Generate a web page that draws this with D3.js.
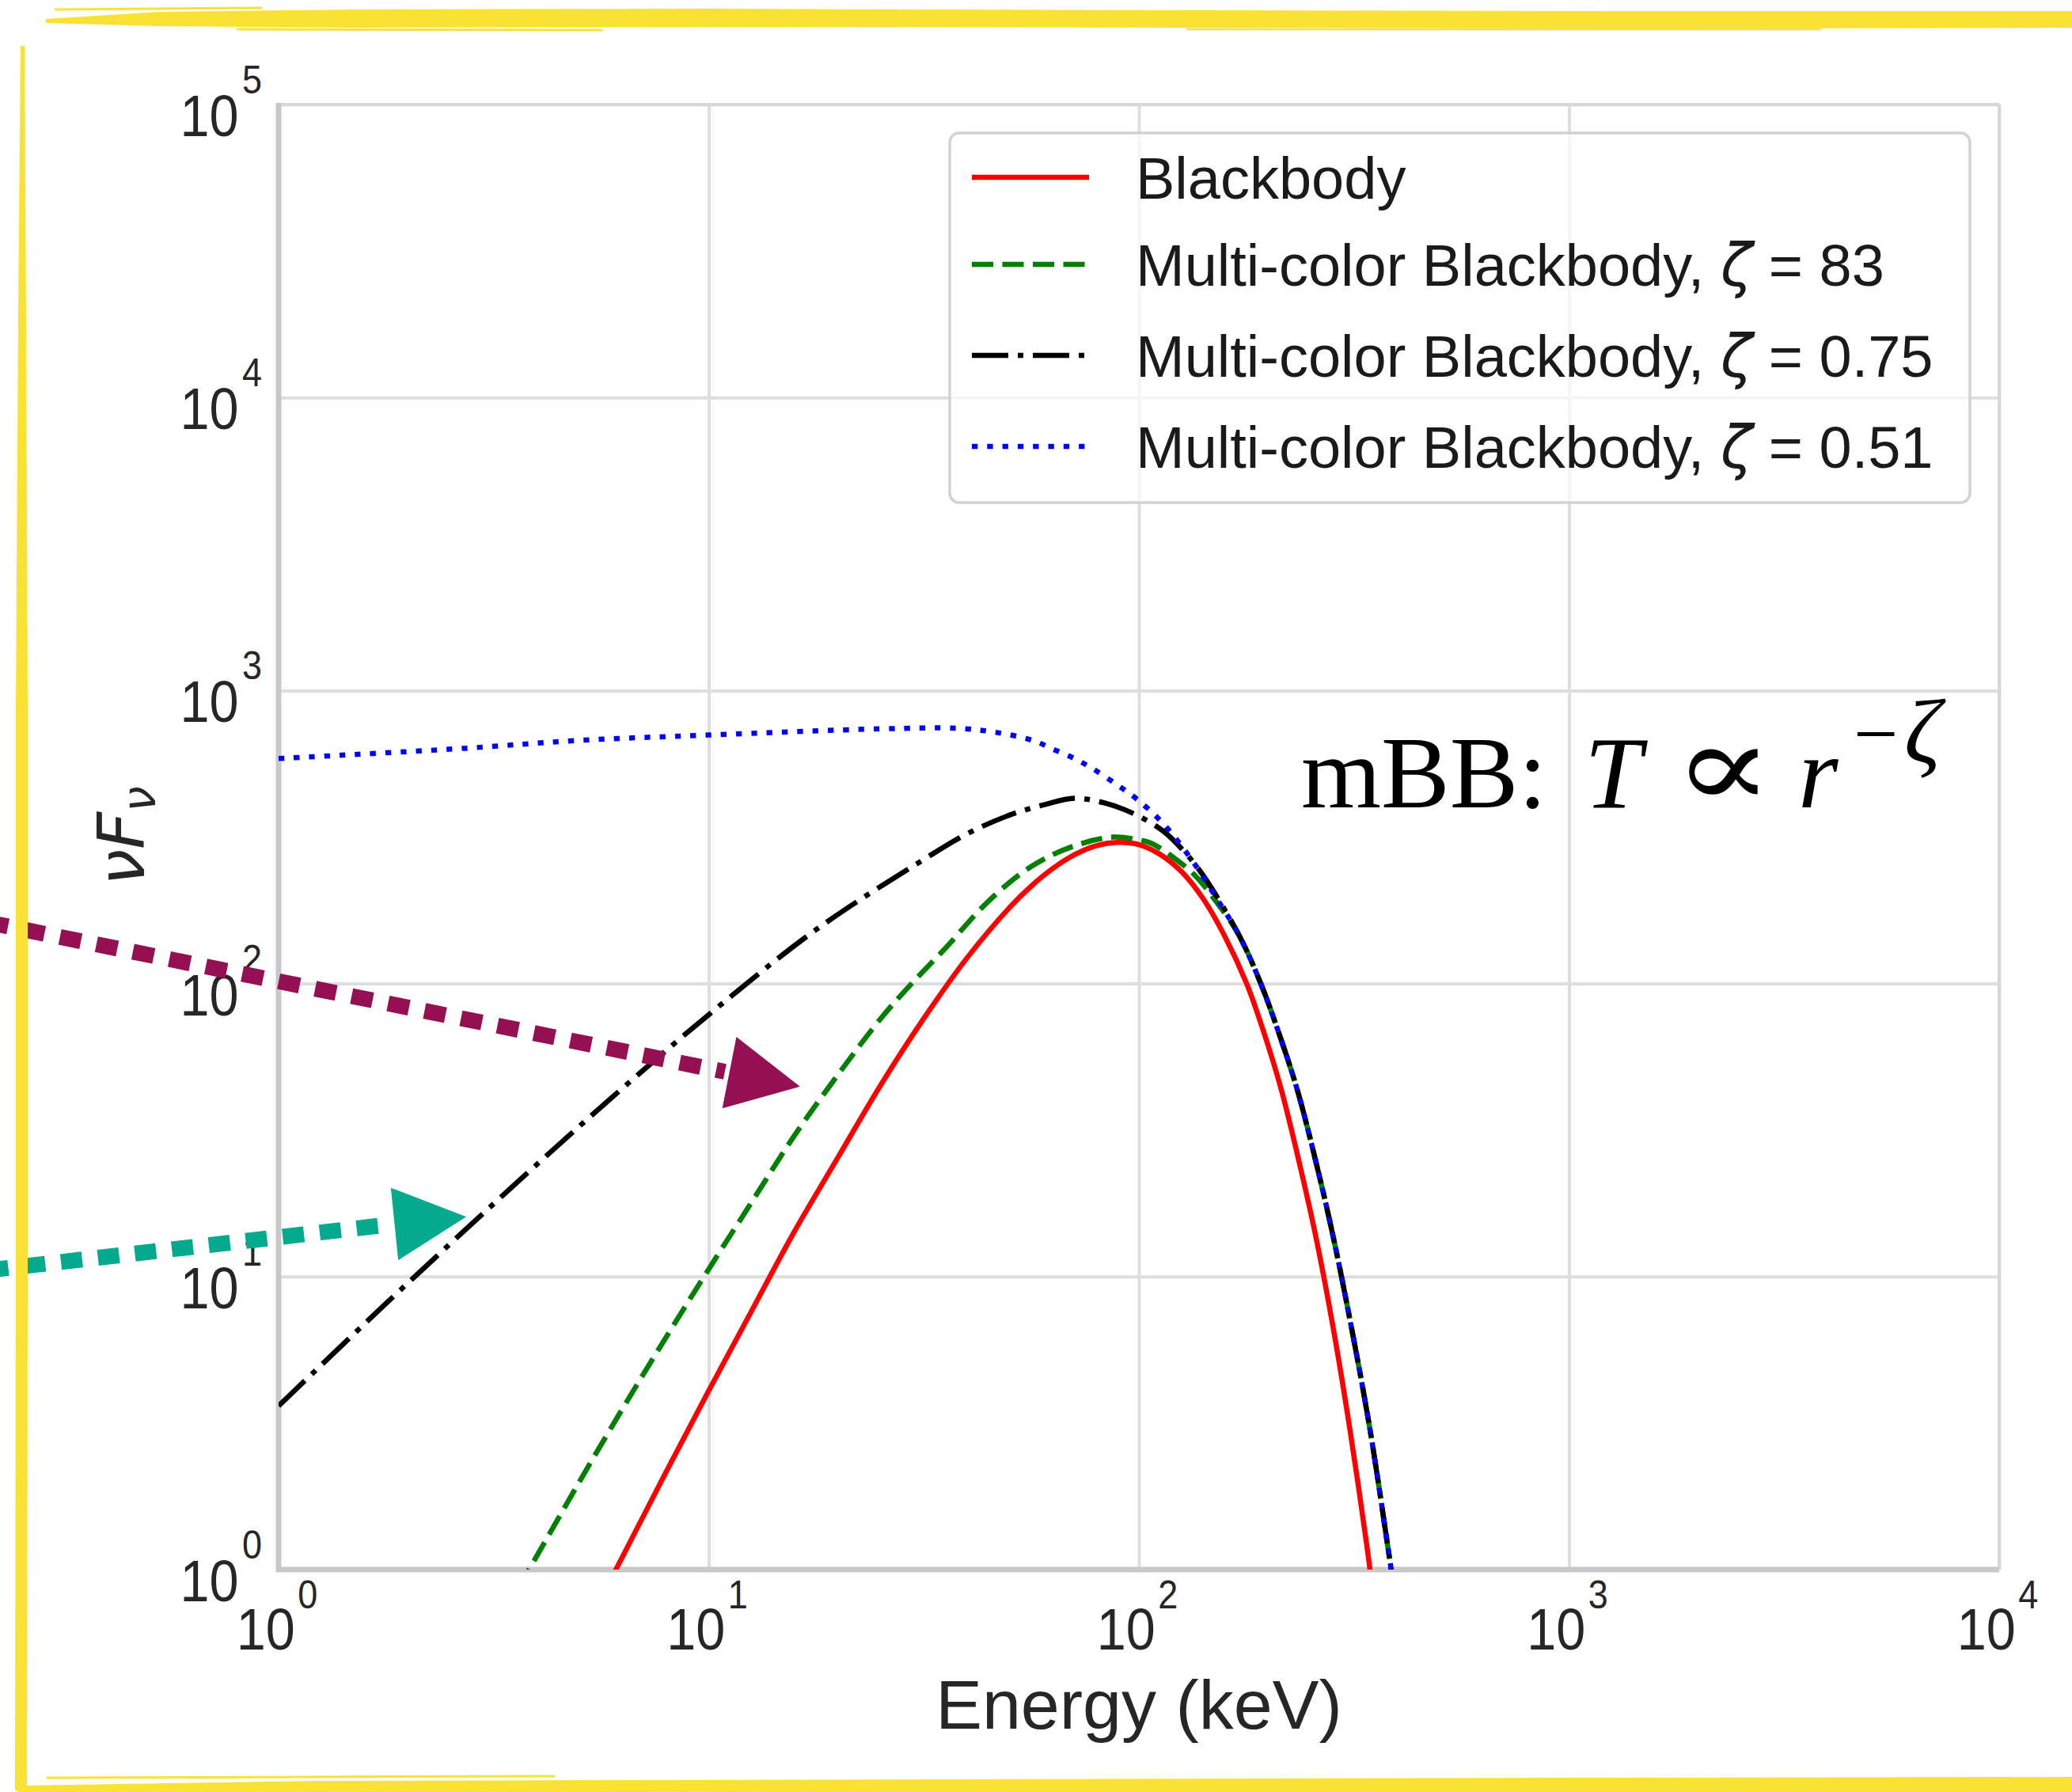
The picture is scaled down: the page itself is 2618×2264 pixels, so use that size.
<!DOCTYPE html>
<html><head><meta charset="utf-8">
<script src="https://cdn.jsdelivr.net/npm/d3@7"></script>
<style>body{margin:0;background:#fff;}svg{display:block}</style>
</head><body>
<script>
// ---------- data ----------
const xTickValues = [1, 10, 100, 1000, 10000];
const xTickExponents = ["0", "1", "2", "3", "4"];
const yTickValues = [1, 10, 100, 1000, 10000, 100000];
const yTickExponents = ["0", "1", "2", "3", "4", "5"];

const bbEnergy = [5.01,6.31,7.94,10.0,12.6,15.8,20.0,25.1,31.6,39.8,50.1,56.2,63.1,70.8,79.4,89.1,100,112,126,141,158,178,195,214,234,257,282,309,339,363];
const bbFlux   = [0.575,1.11,2.14,4.08,7.67,14.2,25.6,45.0,75.9,122,182,215,247,275,295,303,298,276,240,195,146,100,68.5,43.8,25.8,14.0,6.87,3.05,1.20,0.552];

const mbb83Energy = [2.82,3.82,5.01,6.31,7.94,10.0,12.6,15.8,20.0,25.1,29.2,35.5,44.7,56.2,70.8,87.1,100,107,120,135,151,171,192,211,233,256,282,311,344,379,409];
const mbb83Flux   = [0.468,1.0,2.0,3.55,6.17,10.6,18.0,30.2,49.0,75.9,97.7,132,191,251,295,316,309,301,270,234,191,146,100,68.5,43.8,25.8,14.0,6.87,3.05,1.20,0.552];

const mbb075Energy = [1.0,1.78,3.16,5.62,10.0,17.8,31.6,39.8,50.1,60.3,70.8,83.8,99.1,114,128,141,171,192,211,233,256,282,311,344,379,409];
const mbb075Flux   = [3.62,8.11,17.7,37.9,78.3,153,265,324,376,408,429,412,375,331,280,234,146,100,68.5,43.8,25.8,14.0,6.87,3.05,1.20,0.552];

const mbb051Energy = [1.0,2.70,5.01,10,25.1,37.8,46.2,56.6,63.1,70.8,77.8,89.1,99.1,114,133,151,171,192,211,233,256,282,311,344,379,409];
const mbb051Flux   = [586,635,676,705,740,743,721,676,631,586,543,476,425,351,263,197,146,100,68.5,43.8,25.8,14.0,6.87,3.05,1.20,0.552];

const seriesNames = ["Blackbody", "Multi-color Blackbody, ", "Multi-color Blackbody, ", "Multi-color Blackbody, "];
const seriesZeta = [null, "83", "0.75", "0.51"];
const seriesColors = ["#ff0000", "#008000", "#000000", "#0000ff"];
const seriesDash = ["none", "27 11.5", "46 12 7 12", "7.3 12"];

// annotation arrows (data units: energy, flux)
const arrowStartE = [0.210, 0.210];
const arrowStartF = [162, 10.5];
const arrowEndE = [10.9, 1.85];
const arrowEndF = [50.0, 15.1];
const arrowTipE = [16.3, 2.73];
const arrowTipF = [44.5, 16.0];
const arrowColors = ["#941052", "#03aa8d"];

// ---------- layout ----------
const W = 2618, H = 2264;
const L = 352, R = 2526, T = 132, B = 1983;

const svg = d3.select("body").append("svg").attr("width", W).attr("height", H);
svg.append("rect").attr("width", W).attr("height", H).attr("fill", "#fff");

const x = d3.scaleLog().domain([1, 1e4]).range([L, R]);
const y = d3.scaleLog().domain([1, 1e5]).range([B, T]);

// grid via axes
const gx = svg.append("g").attr("transform", `translate(0,${B})`)
  .call(d3.axisBottom(x).tickValues(xTickValues).tickSize(-(B - T)).tickFormat(""));
gx.select(".domain").remove();
gx.selectAll("line").attr("stroke", "#dedede").attr("stroke-width", 4);
const gy = svg.append("g").attr("transform", `translate(${L},0)`)
  .call(d3.axisLeft(y).tickValues(yTickValues).tickSize(-(R - L)).tickFormat(""));
gy.select(".domain").remove();
gy.selectAll("line").attr("stroke", "#dedede").attr("stroke-width", 4);

// spines
svg.append("line").attr("x1", L).attr("x2", R).attr("y1", T).attr("y2", T).attr("stroke", "#d6d6d6").attr("stroke-width", 3.5);
svg.append("line").attr("x1", R).attr("x2", R).attr("y1", T).attr("y2", B).attr("stroke", "#d6d6d6").attr("stroke-width", 3.5);
svg.append("line").attr("x1", L).attr("x2", L).attr("y1", T - 2).attr("y2", B + 3).attr("stroke", "#c8c8c8").attr("stroke-width", 7);
svg.append("line").attr("x1", L - 3).attr("x2", R).attr("y1", B).attr("y2", B).attr("stroke", "#c8c8c8").attr("stroke-width", 7);

// tick labels
const tickFont = "'Liberation Sans', Arial, Helvetica, sans-serif";
xTickValues.forEach((v, i) => {
  const t = svg.append("text")
    .attr("transform", `translate(${x(v) - 2},2084) scale(0.9,1)`)
    .attr("text-anchor", "middle").attr("font-family", tickFont).attr("fill", "#262626");
  t.append("tspan").attr("font-size", 74).text("10");
  t.append("tspan").attr("font-size", 50).attr("dx", 4).attr("dy", -52).text(xTickExponents[i]);
});
yTickValues.forEach((v, i) => {
  const t = svg.append("text")
    .attr("transform", `translate(331,${y(v) + 40}) scale(0.9,1)`)
    .attr("text-anchor", "end").attr("font-family", tickFont).attr("fill", "#262626");
  t.append("tspan").attr("font-size", 74).text("10");
  t.append("tspan").attr("font-size", 50).attr("dx", 5).attr("dy", -54).text(yTickExponents[i]);
});

// axis labels
svg.append("text").attr("x", (L + R) / 2).attr("y", 2184).attr("text-anchor", "middle")
  .attr("font-family", tickFont).attr("font-size", 88).attr("fill", "#262626").text("Energy (keV)");
const yl = svg.append("text").attr("transform", "translate(182,1056) rotate(-90)")
  .attr("text-anchor", "middle").attr("font-family", "'DejaVu Sans', sans-serif")
  .attr("font-style", "italic").attr("fill", "#262626").attr("font-size", 82);
yl.append("tspan").text("νF");
yl.append("tspan").attr("font-size", 58).attr("dy", 14).text("ν");

// curves
svg.append("clipPath").attr("id", "plotclip").append("rect")
  .attr("x", L).attr("y", T).attr("width", R - L).attr("height", B - T);
const line = d3.line().x(d => x(d[0])).y(d => y(d[1])).curve(d3.curveCatmullRom.alpha(0.5));
const seriesData = [
  d3.zip(bbEnergy, bbFlux),
  d3.zip(mbb83Energy, mbb83Flux),
  d3.zip(mbb075Energy, mbb075Flux),
  d3.zip(mbb051Energy, mbb051Flux)
];
const curves = svg.append("g").attr("clip-path", "url(#plotclip)");
seriesData.forEach((d, i) => {
  curves.append("path").attr("d", line(d)).attr("fill", "none")
    .attr("stroke", seriesColors[i]).attr("stroke-width", 6.5)
    .attr("stroke-dasharray", seriesDash[i]).attr("stroke-linecap", "butt");
});

// legend
const lg = svg.append("g");
lg.append("rect").attr("x", 1200).attr("y", 168).attr("width", 1289).attr("height", 467).attr("rx", 12)
  .attr("fill", "#fff").attr("fill-opacity", 0.7).attr("stroke", "#d2d2d2").attr("stroke-width", 3.5);
const legendY = [224, 334, 449, 564];
seriesNames.forEach((name, i) => {
  lg.append("line").attr("x1", 1228).attr("x2", 1376).attr("y1", legendY[i]).attr("y2", legendY[i])
    .attr("stroke", seriesColors[i]).attr("stroke-width", 6.5).attr("stroke-dasharray", seriesDash[i]);
  const t = lg.append("text").attr("x", 1435).attr("y", legendY[i] + 27)
    .attr("font-family", tickFont).attr("font-size", 74).attr("fill", "#1a1a1a");
  t.append("tspan").text(name);
  if (seriesZeta[i] !== null) {
    t.append("tspan").attr("font-family", "'DejaVu Sans', sans-serif").attr("font-style", "italic").text("ζ");
    t.append("tspan").text(" = " + seriesZeta[i]);
  }
});

// mBB annotation
const serif = "'Liberation Serif', 'Times New Roman', serif";
const ann = svg.append("g").attr("font-family", serif).attr("fill", "#000");
ann.append("text").attr("x", 1644).attr("y", 1020).attr("font-size", 130).text("mBB:");
ann.append("text").attr("x", 2002).attr("y", 1020).attr("font-size", 130).attr("font-style", "italic").text("T");
ann.append("text").attr("transform", "translate(2114,1020) scale(1.25,1)").attr("font-family", "'DejaVu Serif', serif").attr("font-size", 150).text("∝");
ann.append("text").attr("x", 2272).attr("y", 1020).attr("font-size", 130).attr("font-style", "italic").text("r");
ann.append("text").attr("x", 2342).attr("y", 961).attr("font-size", 100).text("−");
ann.append("text").attr("x", 2406).attr("y", 963).attr("font-size", 114).attr("font-style", "italic").text("ζ");

// arrows
arrowColors.forEach((c, i) => {
  const sx = x(arrowStartE[i]), sy = y(arrowStartF[i]);
  const ex = x(arrowEndE[i]), ey = y(arrowEndF[i]);
  const tx = x(arrowTipE[i]), ty = y(arrowTipF[i]);
  svg.append("line").attr("x1", sx).attr("y1", sy).attr("x2", ex).attr("y2", ey)
    .attr("stroke", c).attr("stroke-width", 20).attr("stroke-dasharray", "27 20");
  const dx = tx - ex, dy = ty - ey, len = Math.hypot(dx, dy);
  const ux = dx / len, uy = dy / len;
  const bx = tx - ux * 91, by = ty - uy * 91;
  const px = -uy * 46, py = ux * 46;
  svg.append("path").attr("d", `M${tx},${ty}L${bx + px},${by + py}L${bx - px},${by - py}Z`).attr("fill", c);
});

// yellow brushed frame
const yellow = "#f9e234";
const frame = svg.append("g").attr("fill", yellow);
frame.append("path").attr("d", "M58,24 L200,15 L450,12 L900,11 L1500,13 L2100,14 L2618,14 L2618,35 L2100,36 L1500,35 L900,34 L450,35 L200,33 L58,29 Z");
frame.append("path").attr("d", "M26,58 L31,58 L33,400 L35,900 L35,1600 L34,2262 L19,2262 L20,1600 L20,900 L23,400 Z");
frame.append("path").attr("d", "M22,2256 L400,2250 L1200,2248 L2000,2246 L2618,2245 L2618,2264 L22,2264 Z");
const brush = svg.append("g").attr("stroke", yellow).attr("fill", "none").attr("stroke-linecap", "round");
brush.append("path").attr("d", "M70,12 L330,10").attr("stroke-width", 3);
brush.append("path").attr("d", "M300,37 L760,38").attr("stroke-width", 3);
brush.append("path").attr("d", "M1500,37 L2300,37").attr("stroke-width", 2.5);
brush.append("path").attr("d", "M60,2246 L700,2244").attr("stroke-width", 3);
</script>
</body></html>
